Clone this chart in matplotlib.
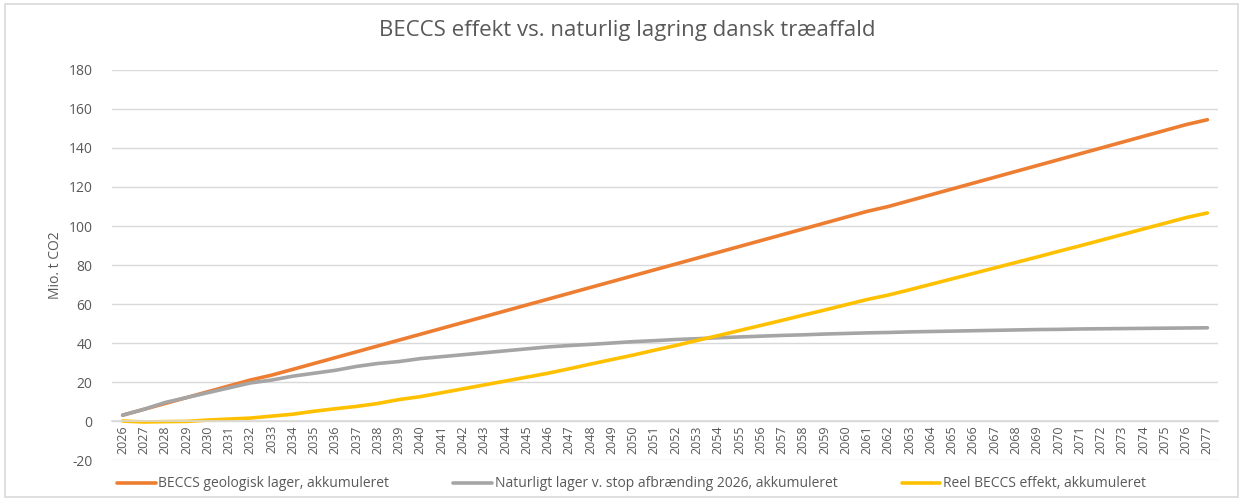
import matplotlib
matplotlib.use("Agg")
import matplotlib.pyplot as plt
from matplotlib.patches import Rectangle

YEARS = [str(y) for y in range(2026, 2078)]

BECCS_GEO = [3, 6, 9, 12, 15, 18, 21, 23.5, 26.5, 29.5, 32.5, 35.5, 38.5, 41.5,
             44.5, 47.5, 50.5, 53.5, 56.5, 59.5, 62.5, 65.5, 68.5, 71.5, 74.5,
             77.5, 80.5, 83.5, 86.5, 89.5, 92.5, 95.5, 98.5, 101.5, 104.5, 107.5,
             110, 113, 116, 119, 122, 125, 128, 131, 134, 137, 140, 143, 146,
             149, 152, 154.5]

NATURLIGT = [3, 6, 9.5, 12, 14.5, 17, 19.5, 21, 23, 24.5, 26, 28, 29.5, 30.5,
             32, 33, 34, 35, 36, 37, 38, 38.7, 39.3, 40, 40.7, 41.2, 41.8, 42.2,
             42.7, 43.1, 43.5, 43.9, 44.2, 44.6, 44.9, 45.2, 45.4, 45.7, 45.9,
             46.1, 46.3, 46.5, 46.7, 46.9, 47.0, 47.2, 47.3, 47.4, 47.5, 47.6,
             47.7, 47.8]

REEL = [0, -0.5, -0.3, -0.2, 0.5, 1, 1.5, 2.5, 3.5, 5, 6.3, 7.5, 9, 11, 12.5,
        14.5, 16.5, 18.5, 20.5, 22.5, 24.5, 26.8, 29.2, 31.5, 33.8, 36.3, 38.7,
        41.3, 43.8, 46.4, 49, 51.6, 54.3, 56.9, 59.6, 62.3, 64.6, 67.3, 70.1,
        72.9, 75.7, 78.5, 81.3, 84.1, 87, 89.8, 92.7, 95.6, 98.5, 101.4, 104.3,
        106.7]

LABELS = ["BECCS geologisk lager, akkumuleret",
          "Naturligt lager v. stop afbrænding 2026, akkumuleret",
          "Reel BECCS effekt, akkumuleret"]
COLORS = ["#ED7D31", "#A5A5A5", "#FFC000"]
TXT = "#595959"
GRID = "#D9D9D9"

plt.rcParams["font.family"] = ["Open Sans", "DejaVu Sans"]
plt.rcParams["axes.unicode_minus"] = False

fig = plt.figure(figsize=(12.43, 5.01), dpi=100)
fig.patches.append(Rectangle((0.004, 0.008), 0.992, 0.984, transform=fig.transFigure,
                             fill=False, edgecolor=GRID, lw=1.2))
ax = fig.add_axes([0.0901, 0.0818, 0.8898, 0.7785])

# x-akse krydser ved 0 (som i Excel) - saettes foer tick-labels
for s in ax.spines.values():
    s.set_visible(False)
ax.spines["bottom"].set_position(("data", 0))
ax.spines["bottom"].set_visible(True)
ax.spines["bottom"].set_color(GRID)
ax.spines["bottom"].set_linewidth(1.2)

x = list(range(len(YEARS)))
for vals, lab, col in zip([BECCS_GEO, NATURLIGT, REEL], LABELS, COLORS):
    ax.plot(x, vals, color=col, lw=2.6, label=lab, solid_capstyle="round")

ax.set_xlim(-0.5, len(YEARS) - 0.5)
ax.set_ylim(-20, 180)
ax.set_yticks(range(-20, 181, 20))
ax.set_xticks(x)
ax.set_xticklabels(YEARS, rotation=90, fontsize=9, color=TXT)
ax.tick_params(axis="y", labelsize=10, labelcolor=TXT, length=0, pad=14)
ax.tick_params(axis="x", length=0, pad=3)
ax.grid(axis="y", color=GRID, lw=1)
ax.set_axisbelow(True)

ax.set_ylabel("Mio. t CO2", fontsize=10, color=TXT, labelpad=4)
fig.text(0.505, 0.94, "BECCS effekt vs. naturlig lagring dansk træaffald",
         ha="center", va="center", fontsize=16, color=TXT)

fig.legend(loc="center", bbox_to_anchor=(0.508, 0.034), ncol=3, frameon=False,
           fontsize=10, labelcolor=TXT, handlelength=2.8, handletextpad=0.2,
           columnspacing=4.6)

fig.savefig("out.png", dpi=100)
